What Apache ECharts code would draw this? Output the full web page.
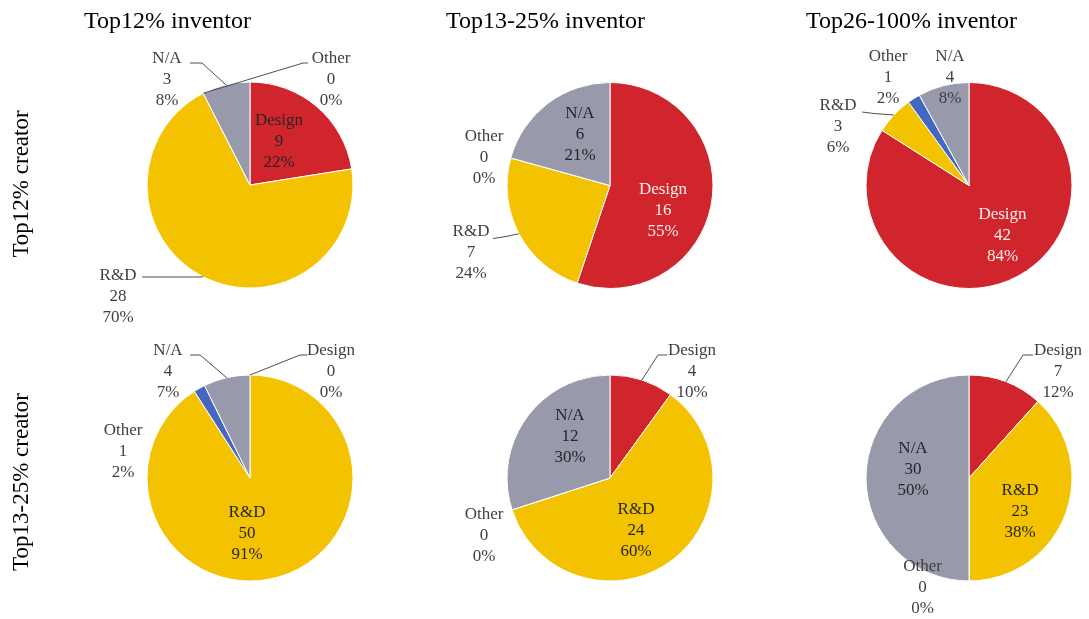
<!DOCTYPE html>
<html><head><meta charset="utf-8">
<script src="https://cdn.jsdelivr.net/npm/echarts@6/dist/echarts.min.js"></script>
<style>html,body{margin:0;padding:0;background:#fff}#c{width:1089px;height:619px}</style>
</head><body><div id="c"></div>
<script>
// ---- data ----
const categories = ['Design', 'R&D', 'Other', 'N/A'];
const colTitles = ['Top12% inventor', 'Top13-25% inventor', 'Top26-100% inventor'];
const rowTitles = ['Top12% creator', 'Top13-25% creator'];

const c12_i12 = [9, 28, 0, 3];
const c12_i13 = [16, 7, 0, 6];
const c12_i26 = [42, 3, 1, 4];
const c13_i12 = [0, 50, 1, 4];
const c13_i13 = [4, 24, 0, 12];
const c13_i26 = [7, 23, 0, 30];

const pct_c12_i12 = ['22%', '70%', '0%', '8%'];
const pct_c12_i13 = ['55%', '24%', '0%', '21%'];
const pct_c12_i26 = ['84%', '6%', '2%', '8%'];
const pct_c13_i12 = ['0%', '91%', '2%', '7%'];
const pct_c13_i13 = ['10%', '60%', '0%', '30%'];
const pct_c13_i26 = ['12%', '38%', '0%', '50%'];

const pies = [
  { values: c12_i12, pct: pct_c12_i12 },
  { values: c12_i13, pct: pct_c12_i13 },
  { values: c12_i26, pct: pct_c12_i26 },
  { values: c13_i12, pct: pct_c13_i12 },
  { values: c13_i13, pct: pct_c13_i13 },
  { values: c13_i26, pct: pct_c13_i26 }
];

// ---- layout & style ----
const colors = ['#D1252D', '#F3C200', '#4467BF', '#989AAB'];
const centers = [[250, 185], [610, 185.5], [969, 185.5], [250, 478], [610, 478], [969, 478]];
const R = 103;
const DARK = '#262626', OUT = '#404040', WHITE = '#fdeeee';
// label placement per pie and category: at = offset of text centre from pie centre,
// line = [bend, end] offsets (absent = no leader line), inside = drawn over the slice
const labelPos = [
  [ {at:[29,-43], inside:true, color:DARK},
    {at:[-132,112], line:[[-50,92],[-108,92]], color:OUT},
    {at:[81,-105], line:[[53,-122],[58,-122]], color:OUT},
    {at:[-83,-105], line:[[-48,-122],[-60,-122]], color:OUT} ],
  [ {at:[53,25], inside:true, color:WHITE},
    {at:[-139,67.5], line:[[-104,51],[-117,53]], color:OUT},
    {at:[-126,-27.5], color:OUT},
    {at:[-30,-50.5], inside:true, color:DARK} ],
  [ {at:[33.5,50.5], inside:true, color:WHITE},
    {at:[-131,-58.5], line:[[-95,-72],[-107,-73.5]], color:OUT},
    {at:[-81,-108], color:OUT},
    {at:[-19,-108], color:OUT} ],
  [ {at:[81,-106], line:[[50,-123],[57,-123]], color:OUT},
    {at:[-3,56], inside:true, color:DARK},
    {at:[-127,-26], color:OUT},
    {at:[-82,-106], line:[[-50,-123],[-60,-123]], color:OUT} ],
  [ {at:[82,-106], line:[[48,-123],[57,-123]], color:OUT},
    {at:[26,53], inside:true, color:DARK},
    {at:[-126,58], color:OUT},
    {at:[-40,-41], inside:true, color:DARK} ],
  [ {at:[89,-106], line:[[54,-123],[64,-123]], color:OUT},
    {at:[51,34], inside:true, color:DARK},
    {at:[-46.5,110], color:OUT},
    {at:[-56,-8], inside:true, color:DARK} ]
];

const FONT = '"Liberation Serif", "DejaVu Serif", serif';

function basePie(c) {
  return {
    type: 'pie', center: c, radius: R, startAngle: 90, clockwise: true,
    avoidLabelOverlap: false, stillShowZeroSum: true, animation: false, silent: true
  };
}

const series = [];
// 1) coloured slices
pies.forEach(function (p, k) {
  const s = basePie(centers[k]);
  s.z = 2;
  s.itemStyle = { borderColor: '#ffffff', borderWidth: 1 };
  s.label = { show: false };
  s.labelLine = { show: false };
  s.data = categories.map(function (name, i) {
    return { name: name, value: p.values[i], itemStyle: { color: colors[i] } };
  });
  series.push(s);
});
// 2) transparent copy on top carrying the labels and leader lines
pies.forEach(function (p, k) {
  const c = centers[k];
  const s = basePie(c);
  s.z = 3;
  s.itemStyle = { color: 'rgba(0,0,0,0)', borderWidth: 0 };
  s.labelLine = { show: true, length: 10, length2: 10, smooth: false,
                  lineStyle: { color: '#505050', width: 1 } };
  s.data = categories.map(function (name, i) {
    const L = labelPos[k][i];
    return {
      name: name,
      value: p.values[i],
      label: {
        show: true,
        position: L.inside ? 'inside' : 'outside',
        formatter: name + '\n' + p.values[i] + '\n' + p.pct[i],
        fontFamily: FONT, fontSize: 17, lineHeight: 21,
        color: L.color, align: 'center'
      },
      labelLine: { show: !!L.line }
    };
  });
  s.labelLayout = function (params) {
    const L = labelPos[k][params.dataIndex];
    const res = { x: c[0] + L.at[0], y: c[1] + L.at[1], align: 'center', verticalAlign: 'middle' };
    if (L.line) {
      // leader line starts on the rim at the slice's mid-angle
      const vals = p.values, tot = vals.reduce(function (a, b) { return a + b; }, 0);
      let cum = 0; for (let j = 0; j < params.dataIndex; j++) cum += vals[j];
      const a = (cum + vals[params.dataIndex] / 2) / tot * 2 * Math.PI;
      const e = [c[0] + R * Math.sin(a), c[1] - R * Math.cos(a)];
      res.labelLinePoints = [e,
        [c[0] + L.line[0][0], c[1] + L.line[0][1]],
        [c[0] + L.line[1][0], c[1] + L.line[1][1]]];
    }
    return res;
  };
  series.push(s);
});

const TF = '24px ' + FONT;
const graphic = [
  { type: 'text', x: 84, y: 22, style: { text: colTitles[0], font: TF, fill: '#000', verticalAlign: 'middle' } },
  { type: 'text', x: 446, y: 22, style: { text: colTitles[1], font: TF, fill: '#000', verticalAlign: 'middle' } },
  { type: 'text', x: 806, y: 22, style: { text: colTitles[2], font: TF, fill: '#000', verticalAlign: 'middle' } },
  { type: 'text', x: 22, y: 184, rotation: Math.PI / 2, style: { text: rowTitles[0], font: '23px ' + FONT, fill: '#000', align: 'center', verticalAlign: 'middle' } },
  { type: 'text', x: 22, y: 482, rotation: Math.PI / 2, style: { text: rowTitles[1], font: '23px ' + FONT, fill: '#000', align: 'center', verticalAlign: 'middle' } }
];

const chart = echarts.init(document.getElementById('c'), null, { renderer: 'canvas' });
chart.setOption({ backgroundColor: '#ffffff', animation: false, graphic: graphic, series: series });
</script></body></html>
